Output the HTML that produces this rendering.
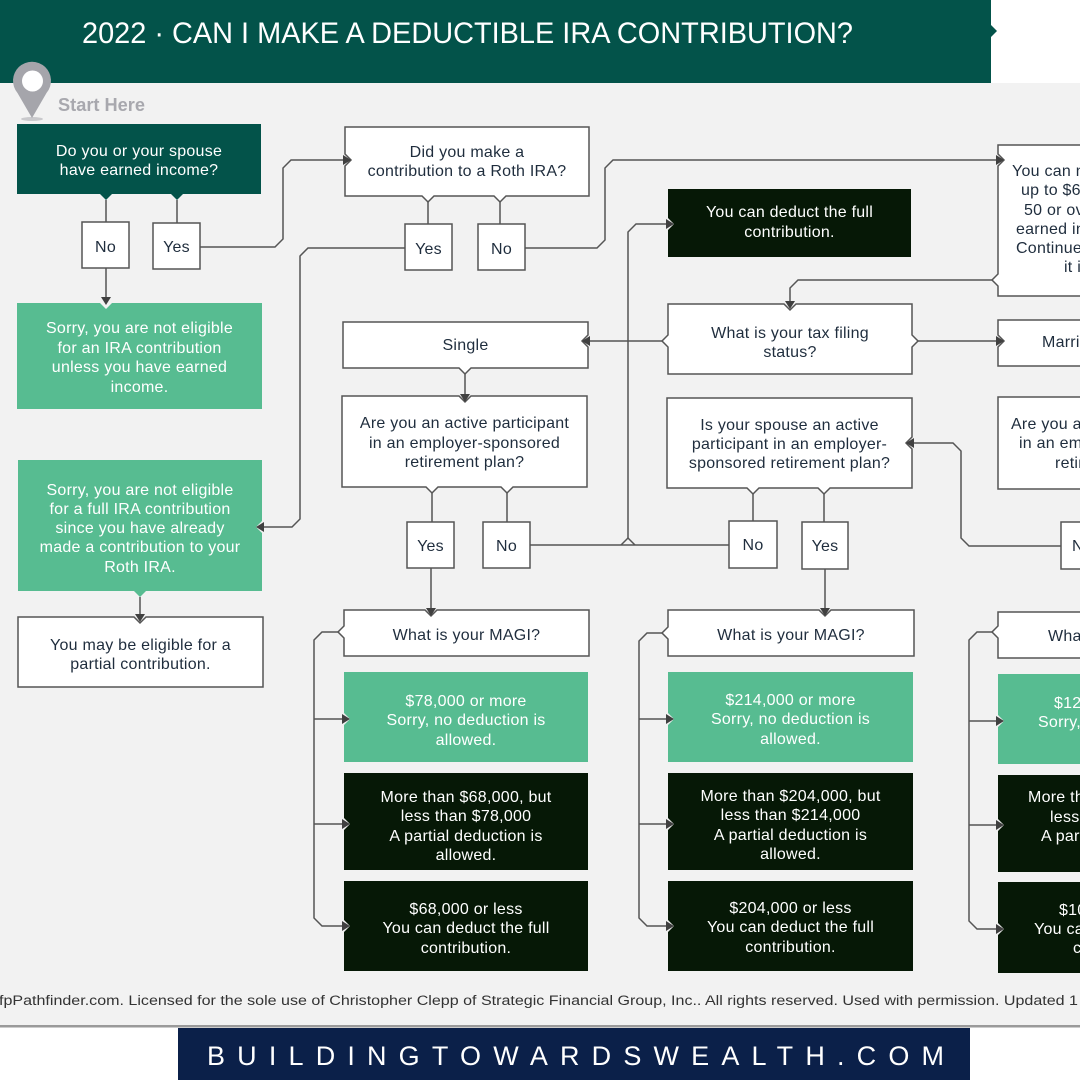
<!DOCTYPE html>
<html>
<head>
<meta charset="utf-8">
<style>
html,body{margin:0;padding:0;background:#fff;}
svg{display:block;}
text{font-family:"Liberation Sans",sans-serif;}
.t{font-size:16px;letter-spacing:0.25px;}
.m{text-anchor:middle;}
.k{fill:#1F2D3D;}
.w{fill:#ffffff;}
.bw{fill:#ffffff;stroke:#555;stroke-width:1.5;}
.bg{fill:#57BC91;}
.bd{fill:#061806;}
.c{fill:none;stroke:#555;stroke-width:1.5;}
.a{fill:#404040;}
</style>
</head>
<body>
<svg width="1080" height="1080" viewBox="0 0 1080 1080" xmlns="http://www.w3.org/2000/svg">
<!-- backgrounds -->
<rect x="0" y="0" width="1080" height="1080" fill="#ffffff"/>
<rect x="0" y="83" width="1080" height="942" fill="#F2F2F2"/>
<rect x="0" y="1025" width="1080" height="2.5" fill="#9a9a9a"/>
<!-- header -->
<rect x="0" y="0" width="991" height="83" fill="#03534A"/>
<polygon points="991,25 997,31 991,37" fill="#03534A"/>
<text x="82" y="43" font-size="30" fill="#ffffff" textLength="771" lengthAdjust="spacingAndGlyphs">2022 · CAN I MAKE A DEDUCTIBLE IRA CONTRIBUTION?</text>

<!-- pin -->
<ellipse cx="32" cy="119" rx="11" ry="2" fill="#c9c9cc"/>
<path d="M32,118 L17.5,93 A19,19 0 1,1 46.5,93 Z" fill="#A5A5AB"/>
<circle cx="32.5" cy="81" r="10.5" fill="#ffffff"/>
<text x="58" y="111" font-size="18" font-weight="bold" fill="#A8A8AE" textLength="87" lengthAdjust="spacingAndGlyphs">Start Here</text>

<!-- ============ connectors ============ -->
<g class="c">
  <path d="M106,200 V222"/>
  <path d="M177,200 V223"/>
  <path d="M106,268 V297"/>
  <path d="M200,247 H275 L283,239 V168 L291,160 H343"/>
  <path d="M428,202 V224"/>
  <path d="M500,202 V224"/>
  <path d="M405,248 H308 L300,256 V519 L292,527 H264"/>
  <path d="M140,597 V615"/>
  <path d="M525,248 H597 L605,240 V168 L613,160 H996"/>
  <path d="M992,280 H798 L790,288 V302"/>
  <path d="M662,341 H590"/>
  <path d="M918,341 H996"/>
  <path d="M465,374 V394"/>
  <path d="M432,493 V522"/>
  <path d="M507,493 V522"/>
  <path d="M530,545 H729"/>
  <path d="M628,538 V232 L636,224 H666"/>
  <path d="M621,545 L628,538 L635,545"/>
  <path d="M431,568 V608"/>
  <path d="M338,632 H322 L314,640 V918 L322,926 H342"/>
  <path d="M314,719 H342"/>
  <path d="M314,824 H342"/>
  <path d="M753,494 V521"/>
  <path d="M824,494 V522"/>
  <path d="M825,569 V608"/>
  <path d="M662,633 H647 L639,641 V918 L647,926 H666"/>
  <path d="M639,719 H666"/>
  <path d="M639,824 H666"/>
  <path d="M1061,546 H969 L961,538 V451 L953,443 H914"/>
  <path d="M992,632 H977 L969,640 V921 L977,929 H996"/>
  <path d="M969,721 H996"/>
  <path d="M969,825 H996"/>
</g>

<!-- ============ boxes ============ -->
<rect x="17" y="124" width="244" height="70" fill="#03534A"/>
<polygon points="100,194 106,200 112,194" fill="#03534A"/>
<polygon points="171,194 177,200 183,194" fill="#03534A"/>

<rect class="bw" x="82" y="222" width="47" height="46"/>
<rect class="bw" x="153" y="223" width="47" height="46"/>

<path class="bg" d="M17,303 H100 L106,309 L112,303 H262 V409 H17 Z"/>

<path class="bw" d="M345,127 H589 V196 H506 L500,202 L494,196 H434 L428,202 L422,196 H345 V166 L351,160 L345,154 Z"/>
<rect class="bw" x="405" y="224" width="47" height="46"/>
<rect class="bw" x="478" y="224" width="47" height="46"/>

<path class="bg" d="M18,460 H262 V521 L256,527 L262,533 V591 H146 L140,597 L134,591 H18 Z"/>
<path class="bw" d="M18,617 H134 L140,623 L146,617 H263 V687 H18 Z"/>

<path class="bd" d="M668,189 H911 V257 H668 V230 L674,224 L668,218 Z"/>

<path class="bw" d="M1090,145 H998 V154 L1004,160 L998,166 V274 L992,280 L998,286 V296 H1090"/>

<path class="bw" d="M668,304 H784 L790,310 L796,304 H912 V335 L918,341 L912,347 V374 H668 V347 L662,341 L668,335 Z"/>
<path class="bw" d="M343,322 H588 V335 L582,341 L588,347 V368 H471 L465,374 L459,368 H343 Z"/>
<path class="bw" d="M1090,320 H998 V335 L1004,341 L998,347 V366 H1090"/>

<path class="bw" d="M342,396 H459 L465,402 L471,396 H587 V487 H513 L507,493 L501,487 H438 L432,493 L426,487 H342 Z"/>
<path class="bw" d="M667,398 H912 V437 L906,443 L912,449 V488 H830 L824,494 L818,488 H759 L753,494 L747,488 H667 Z"/>
<path class="bw" d="M1090,397 H998 V489 H1090"/>

<rect class="bw" x="407" y="522" width="47" height="46"/>
<rect class="bw" x="483" y="522" width="47" height="46"/>
<rect class="bw" x="729" y="521" width="48" height="47"/>
<rect class="bw" x="802" y="522" width="46" height="47"/>
<rect class="bw" x="1061" y="522" width="40" height="47"/>

<path class="bw" d="M344,610 H425 L431,616 L437,610 H589 V656 H344 V638 L338,632 L344,626 Z"/>
<path class="bw" d="M668,610 H819 L825,616 L831,610 H914 V656 H668 V639 L662,633 L668,627 Z"/>
<path class="bw" d="M1090,612 H998 V626 L992,632 L998,638 V658 H1090"/>

<path class="bg" d="M344,672 H588 V762 H344 V725 L350,719 L344,713 Z"/>
<path class="bd" d="M344,773 H588 V870 H344 V830 L350,824 L344,818 Z"/>
<path class="bd" d="M344,881 H588 V971 H344 V932 L350,926 L344,920 Z"/>
<path class="bg" d="M668,672 H913 V762 H668 V725 L674,719 L668,713 Z"/>
<path class="bd" d="M668,773 H913 V870 H668 V830 L674,824 L668,818 Z"/>
<path class="bd" d="M668,881 H913 V971 H668 V932 L674,926 L668,920 Z"/>
<path class="bg" d="M998,674 H1090 V764 H998 V727 L1004,721 L998,715 Z"/>
<path class="bd" d="M998,775 H1090 V872 H998 V831 L1004,825 L998,819 Z"/>
<path class="bd" d="M998,882 H1090 V973 H998 V935 L1004,929 L998,923 Z"/>

<!-- ============ arrowheads ============ -->
<g class="a">
  <polygon points="101,297 111,297 106,305"/>
  <polygon points="343,155 351,160 343,165"/>
  <polygon points="264,522 256,527 264,532"/>
  <polygon points="135,614 145,614 140,622"/>
  <polygon points="996,155 1004,160 996,165"/>
  <polygon points="785,301 795,301 790,309"/>
  <polygon points="590,336 582,341 590,346"/>
  <polygon points="996,336 1004,341 996,346"/>
  <polygon points="460,394 470,394 465,402"/>
  <polygon points="666,219 674,224 666,229"/>
  <polygon points="426,608 436,608 431,616"/>
  <polygon points="342,714 350,719 342,724"/>
  <polygon points="342,819 350,824 342,829"/>
  <polygon points="342,921 350,926 342,931"/>
  <polygon points="820,608 830,608 825,616"/>
  <polygon points="666,714 674,719 666,724"/>
  <polygon points="666,819 674,824 666,829"/>
  <polygon points="666,921 674,926 666,931"/>
  <polygon points="914,438 906,443 914,448"/>
  <polygon points="996,716 1004,721 996,726"/>
  <polygon points="996,820 1004,825 996,830"/>
  <polygon points="996,924 1004,929 996,934"/>
</g>

<!-- ============ text ============ -->
<g class="t">
  <text class="m w" x="139" y="156">Do you or your spouse</text>
  <text class="m w" x="139" y="175">have earned income?</text>
  <text class="m k" x="105.5" y="252">No</text>
  <text class="m k" x="176.5" y="252">Yes</text>

  <text class="m w" x="139.5" y="333">Sorry, you are not eligible</text>
  <text class="m w" x="139.5" y="353">for an IRA contribution</text>
  <text class="m w" x="139.5" y="372">unless you have earned</text>
  <text class="m w" x="139.5" y="392">income.</text>

  <text class="m k" x="467" y="157">Did you make a</text>
  <text class="m k" x="467" y="176">contribution to a Roth IRA?</text>
  <text class="m k" x="428.5" y="254">Yes</text>
  <text class="m k" x="501.5" y="254">No</text>

  <text class="m w" x="140" y="495">Sorry, you are not eligible</text>
  <text class="m w" x="140" y="514">for a full IRA contribution</text>
  <text class="m w" x="140" y="533">since you have already</text>
  <text class="m w" x="140" y="552">made a contribution to your</text>
  <text class="m w" x="140" y="572">Roth IRA.</text>

  <text class="m k" x="140.5" y="650">You may be eligible for a</text>
  <text class="m k" x="140.5" y="669">partial contribution.</text>

  <text class="m w" x="789.5" y="217">You can deduct the full</text>
  <text class="m w" x="789.5" y="237">contribution.</text>

  <text class="k" x="1012" y="176">You can make a contribution</text>
  <text class="k" x="1021" y="195">up to $6,000 ($7,000 if age</text>
  <text class="k" x="1024" y="215">50 or over) if you have</text>
  <text class="k" x="1016" y="234">earned income.</text>
  <text class="k" x="1016" y="253">Continue to see if</text>
  <text class="k" x="1064" y="272">it is deductible.</text>

  <text class="m k" x="790" y="338">What is your tax filing</text>
  <text class="m k" x="790" y="357">status?</text>

  <text class="m k" x="465.5" y="350">Single</text>
  <text class="k" x="1042" y="347">Married Filing Jointly</text>

  <text class="m k" x="464.5" y="428">Are you an active participant</text>
  <text class="m k" x="464.5" y="448">in an employer-sponsored</text>
  <text class="m k" x="464.5" y="467">retirement plan?</text>

  <text class="m k" x="789.5" y="430">Is your spouse an active</text>
  <text class="m k" x="789.5" y="449">participant in an employer-</text>
  <text class="m k" x="789.5" y="468">sponsored retirement plan?</text>

  <text class="k" x="1011" y="429">Are you an active participant</text>
  <text class="k" x="1019" y="448">in an employer-sponsored</text>
  <text class="k" x="1055" y="468">retirement plan?</text>

  <text class="m k" x="430.5" y="551">Yes</text>
  <text class="m k" x="506.5" y="551">No</text>
  <text class="m k" x="753" y="550">No</text>
  <text class="m k" x="825" y="551">Yes</text>
  <text class="k" x="1072" y="551">No</text>

  <text class="m k" x="466.5" y="640">What is your MAGI?</text>
  <text class="m k" x="791" y="640">What is your MAGI?</text>
  <text class="k" x="1048" y="641">What is your MAGI?</text>

  <text class="m w" x="466" y="706">$78,000 or more</text>
  <text class="m w" x="466" y="725">Sorry, no deduction is</text>
  <text class="m w" x="466" y="745">allowed.</text>
  <text class="m w" x="466" y="802">More than $68,000, but</text>
  <text class="m w" x="466" y="821">less than $78,000</text>
  <text class="m w" x="466" y="841">A partial deduction is</text>
  <text class="m w" x="466" y="860">allowed.</text>
  <text class="m w" x="466" y="914">$68,000 or less</text>
  <text class="m w" x="466" y="933">You can deduct the full</text>
  <text class="m w" x="466" y="953">contribution.</text>

  <text class="m w" x="790.5" y="705">$214,000 or more</text>
  <text class="m w" x="790.5" y="724">Sorry, no deduction is</text>
  <text class="m w" x="790.5" y="744">allowed.</text>
  <text class="m w" x="790.5" y="801">More than $204,000, but</text>
  <text class="m w" x="790.5" y="820">less than $214,000</text>
  <text class="m w" x="790.5" y="840">A partial deduction is</text>
  <text class="m w" x="790.5" y="859">allowed.</text>
  <text class="m w" x="790.5" y="913">$204,000 or less</text>
  <text class="m w" x="790.5" y="932">You can deduct the full</text>
  <text class="m w" x="790.5" y="952">contribution.</text>

  <text class="w" x="1054" y="708">$129,000 or more</text>
  <text class="w" x="1038" y="727">Sorry, no deduction is</text>
  <text class="w" x="1028" y="802">More than $109,000, but</text>
  <text class="w" x="1050" y="822">less than $129,000</text>
  <text class="w" x="1041" y="841">A partial deduction is</text>
  <text class="w" x="1059" y="915">$109,000 or less</text>
  <text class="w" x="1034" y="934">You can deduct the full</text>
  <text class="w" x="1073" y="953">contribution.</text>
</g>

<!-- footer -->
<text x="-1" y="1005" font-size="13.5" fill="#333" style="font-family:'Liberation Sans Narrow','Liberation Sans',sans-serif;" textLength="1079" lengthAdjust="spacingAndGlyphs">fpPathfinder.com. Licensed for the sole use of Christopher Clepp of Strategic Financial Group, Inc.. All rights reserved. Used with permission. Updated 1</text>

<!-- banner -->
<rect x="178" y="1028" width="792" height="52" fill="#0B2049"/>
<text x="207" y="1065" font-size="27" fill="#ffffff" textLength="737" lengthAdjust="spacing">BUILDINGTOWARDSWEALTH.COM</text>
</svg>
</body>
</html>
